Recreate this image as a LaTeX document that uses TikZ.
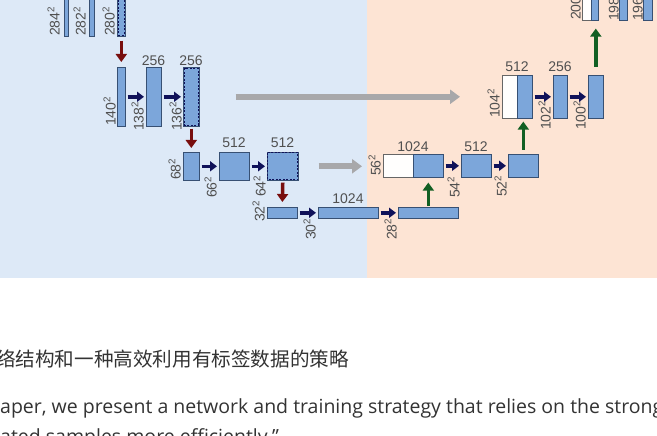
\documentclass[tikz,border=0pt]{standalone}
\usepackage{fontspec}
\newfontfamily\labelfont{Liberation Sans}
\newfontfamily\bodyfont{Open Sans}
\newfontfamily\cjk{Noto Sans CJK SC}
\usetikzlibrary{arrows.meta}
\definecolor{bgblue}{RGB}{221,233,247}
\definecolor{bgpeach}{RGB}{253,228,212}
\definecolor{barfill}{RGB}{124,166,218}
\definecolor{barline}{RGB}{55,80,115}
\definecolor{labgray}{RGB}{80,80,80}
\definecolor{navyarrow}{RGB}{16,18,90}
\definecolor{redarrow}{RGB}{120,14,14}
\definecolor{greenarrow}{RGB}{18,95,35}
\definecolor{grayarrow}{RGB}{168,168,170}
\definecolor{textgray}{RGB}{51,51,51}
\tikzset{
  barbox/.style={draw=barline, fill=barfill, line width=0.6pt, inner sep=0pt, anchor=north west},
  whitebox/.style={draw=gray!80!black, fill=white!96!bgpeach, line width=0.6pt, inner sep=0pt, anchor=north west},
  dashline/.style={draw=navyarrow, line width=1pt, dash pattern=on 2pt off 1.5pt},
  toplab/.style={font=\labelfont\fontsize{14}{15}\selectfont, text=labgray, inner sep=0pt, anchor=base},
  sidelab/.style={font=\labelfont\fontsize{14}{15}\selectfont, text=labgray, inner sep=0pt, anchor=south west, rotate=90},
  convarrow/.style={draw=navyarrow, line width=3.5pt, -{Triangle[length=7pt,width=10pt]}, shorten <=2pt, shorten >=2pt},
  poolarrow/.style={draw=redarrow, line width=3.5pt, -{Triangle[length=8pt,width=11pt]}},
  uparrow/.style={draw=greenarrow, line width=3.5pt, -{Triangle[length=8pt,width=11pt]}},
  copyarrow/.style={draw=grayarrow, line width=6pt, -{Triangle[length=10pt,width=14pt]}}
}
\begin{document}
\begin{tikzpicture}[x=1pt,y=-1pt]
\useasboundingbox (0,0) rectangle (657,436);
\clip (0,0) rectangle (657,436);
\fill[white] (0,0) rectangle (657,436);
\fill[bgblue] (0,0) rectangle (367,278);
\fill[bgpeach] (367,0) rectangle (657,278);

% level 1 left
\node[barbox, minimum width=4pt, minimum height=41pt] (b284) at (64,-5) {};
\node[barbox, minimum width=5pt, minimum height=41pt] (b282) at (89,-5) {};
\node[barbox, minimum width=8pt, minimum height=41pt] (b280) at (117,-5) {};
\draw[dashline] ([shift={(1.5,1.5)}]b280.north west) rectangle ([shift={(-1.5,-1.5)}]b280.south east);
% level 2 left
\node[barbox, minimum width=8pt, minimum height=59pt] (b140) at (117,67) {};
\node[barbox, minimum width=15pt, minimum height=59pt] (b138) at (146,67) {};
\node[barbox, minimum width=16pt, minimum height=59pt] (b136) at (183,67) {};
\draw[dashline] ([shift={(1.5,1.5)}]b136.north west) rectangle ([shift={(-1.5,-1.5)}]b136.south east);
% level 3 left
\node[barbox, minimum width=16pt, minimum height=28pt] (b68) at (183,152) {};
\node[barbox, minimum width=30pt, minimum height=28pt] (b66) at (219,152) {};
\node[barbox, minimum width=31pt, minimum height=28pt] (b64) at (267,152) {};
\draw[dashline] ([shift={(0.8,0.8)}]b64.north west) rectangle ([shift={(-0.8,-0.8)}]b64.south east);
% level 4
\node[barbox, minimum width=30pt, minimum height=11pt] (b32) at (267,207) {};
\node[barbox, minimum width=60pt, minimum height=11pt] (b30) at (318,207) {};
\node[barbox, minimum width=60pt, minimum height=11pt] (b28) at (398,207) {};
% level 3 right
\node[whitebox, minimum width=30pt, minimum height=23pt] (w56) at (383,154) {};
\node[barbox, minimum width=30pt, minimum height=23pt] (b56) at (413,154) {};
\node[barbox, minimum width=30pt, minimum height=23pt] (b54) at (461,154) {};
\node[barbox, minimum width=30pt, minimum height=23pt] (b52) at (508,154) {};
% level 2 right
\node[whitebox, minimum width=15pt, minimum height=43pt] (w104) at (502,75) {};
\node[barbox, minimum width=15pt, minimum height=43pt] (b104) at (517,75) {};
\node[barbox, minimum width=14pt, minimum height=43pt] (b102) at (553,75) {};
\node[barbox, minimum width=15pt, minimum height=43pt] (b100) at (588,75) {};
% level 1 right
\node[whitebox, minimum width=9pt, minimum height=25pt] (w200) at (582,-5) {};
\node[barbox, minimum width=7pt, minimum height=25pt] (b200) at (591,-5) {};
\node[barbox, minimum width=8pt, minimum height=25pt] (b198) at (619,-5) {};
\node[barbox, minimum width=9pt, minimum height=25pt] (b196) at (643,-5) {};

% channel labels
\node[toplab] (t1) at (153.5,66) {256};
\node[toplab] (t2) at (191,66) {256};
\node[toplab] (t3) at (234,147) {512};
\node[toplab] (t4) at (282.5,147) {512};
\node[toplab] (t5) at (348,203) {1024};
\node[toplab] (t6) at (413,151) {1024};
\node[toplab] (t7) at (476,151) {512};
\node[toplab] (t8) at (517,72) {512};
\node[toplab] (t9) at (560,72) {256};

% size labels
\node[sidelab] (s284) at (60,36) {284\textsuperscript{2}};
\node[sidelab] (s282) at (86,36) {282\textsuperscript{2}};
\node[sidelab] (s280) at (115,36) {280\textsuperscript{2}};
\node[sidelab] (s140) at (116,126) {140\textsuperscript{2}};
\node[sidelab] (s138) at (144,131) {138\textsuperscript{2}};
\node[sidelab] (s136) at (182,131) {136\textsuperscript{2}};
\node[sidelab] (s68) at (181,180) {68\textsuperscript{2}};
\node[sidelab] (s66) at (217,198) {66\textsuperscript{2}};
\node[sidelab] (s64) at (266,197) {64\textsuperscript{2}};
\node[sidelab] (s32) at (265,222) {32\textsuperscript{2}};
\node[sidelab] (s30) at (316,240) {30\textsuperscript{2}};
\node[sidelab] (s28) at (397,240) {28\textsuperscript{2}};
\node[sidelab] (s56) at (381,176) {56\textsuperscript{2}};
\node[sidelab] (s54) at (460,198) {54\textsuperscript{2}};
\node[sidelab] (s52) at (507,197) {52\textsuperscript{2}};
\node[sidelab] (s104) at (500,118) {104\textsuperscript{2}};
\node[sidelab] (s102) at (551,130) {102\textsuperscript{2}};
\node[sidelab] (s100) at (586,130) {100\textsuperscript{2}};
\node[sidelab] (s200) at (581,20) {200\textsuperscript{2}};
\node[sidelab] (s198) at (619,21) {198\textsuperscript{2}};
\node[sidelab] (s196) at (643,21) {196\textsuperscript{2}};

% conv arrows
\draw[convarrow] (b140.east) -- (b138.west);
\draw[convarrow] (b138.east) -- (b136.west);
\draw[convarrow] (b68.east) -- (b66.west);
\draw[convarrow] (b66.east) -- (b64.west);
\draw[convarrow] (b32.east) -- (b30.west);
\draw[convarrow] (b30.east) -- (b28.west);
\draw[convarrow] (b56.east) -- (b54.west);
\draw[convarrow] (b54.east) -- (b52.west);
\draw[convarrow] (b104.east) -- (b102.west);
\draw[convarrow] (b102.east) -- (b100.west);

% pooling arrows
\draw[poolarrow, shorten <=4pt, shorten >=5pt] (b280.south) -- (b140.north);
\draw[poolarrow, shorten <=2pt, shorten >=4pt] (b136.south) -- (b68.north);
\draw[poolarrow, shorten <=2pt, shorten >=5pt] (b64.south) -- (b32.north);

% up arrows
\draw[uparrow, shorten <=1pt, shorten >=5pt] (b28.north) -- (b56.south);
\draw[uparrow, shorten <=4pt, shorten >=3pt] (b52.north) -- (b52.north |- b104.south);
\draw[uparrow, shorten <=8pt, shorten >=8pt] (b100.north) -- (b100.north |- b200.south);

% copy arrows
\draw[copyarrow, shorten <=36pt, shorten >=42pt] (b136.east) -- (w104.west);
\draw[copyarrow, shorten <=20pt, shorten >=21pt] (b64.east) -- (b64.east -| w56.west);

% text below
\node[anchor=base west, inner sep=0pt, text=textgray, font=\cjk\fontsize{19.6}{22}\selectfont] (zh) at (-4,366) {络结构和一种高效利用有标签数据的策略};
\node[anchor=base west, inner sep=0pt, text=textgray, font=\bodyfont\fontsize{19.5}{22}\selectfont] (en1) at (0,413) {aper, we present a network and training strategy that relies on the strong use};
\node[anchor=base west, inner sep=0pt, text=textgray, font=\bodyfont\fontsize{19.5}{22}\selectfont] (en2) at (0,443) {ated samples more efficiently.”};
\end{tikzpicture}
\end{document}
